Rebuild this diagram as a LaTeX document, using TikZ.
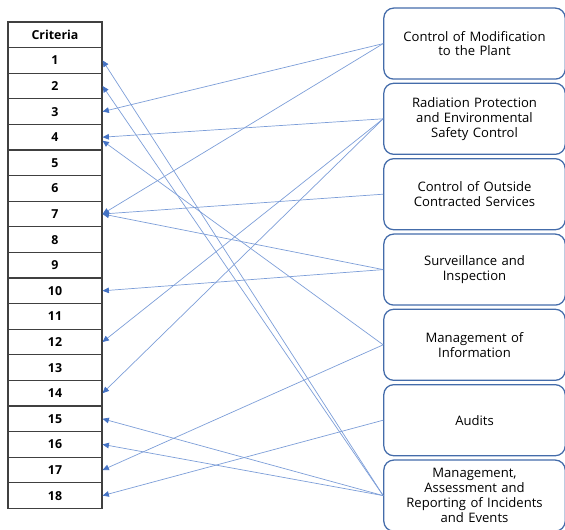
\documentclass[tikz,border=0pt]{standalone}
\usepackage{fontspec}
\setmainfont{Open Sans}
\usetikzlibrary{positioning, arrows.meta}
\definecolor{lineblue}{RGB}{125,158,216}
\definecolor{tipblue}{RGB}{68,114,196}
\definecolor{boxblue}{RGB}{68,108,170}

\begin{document}
\begin{tikzpicture}[
        font=\fontsize{9.3}{10.6}\selectfont,
        cell/.style={rectangle, draw=black!75, fill=white, minimum
          width=2.35cm, minimum height=0.64cm, inner sep=0pt,
        line width=0.8pt, font=\fontsize{8.8}{10}\selectfont\bfseries},
        area/.style={rectangle, draw=boxblue, text width=4.3cm,
          align=center, rounded corners=7pt, minimum width=4.425cm,
        minimum height=1.775cm, line width=0.9pt},
        line/.style={draw=lineblue, -{Triangle[length=4.5pt, width=4pt,
        color=tipblue]}, line width=0.5pt}
      ]
      \useasboundingbox (0, 0) rectangle (14.125, -13.225);

      % Criteria table
      \node [cell] (r_head) at (1.375, -0.87) {Criteria};
      \node [cell] (r_1) at (1.375, -1.51) {1};
      \node [cell] (r_2) at (1.375, -2.15) {2};
      \node [cell] (r_3) at (1.375, -2.79) {3};
      \node [cell] (r_4) at (1.375, -3.43) {4};
      \node [cell] (r_5) at (1.375, -4.07) {5};
      \node [cell] (r_6) at (1.375, -4.71) {6};
      \node [cell] (r_7) at (1.375, -5.35) {7};
      \node [cell] (r_8) at (1.375, -5.99) {8};
      \node [cell] (r_9) at (1.375, -6.63) {9};
      \node [cell] (r_10) at (1.375, -7.27) {10};
      \node [cell] (r_11) at (1.375, -7.91) {11};
      \node [cell] (r_12) at (1.375, -8.55) {12};
      \node [cell] (r_13) at (1.375, -9.19) {13};
      \node [cell] (r_14) at (1.375, -9.83) {14};
      \node [cell] (r_15) at (1.375, -10.47) {15};
      \node [cell] (r_16) at (1.375, -11.11) {16};
      \node [cell] (r_17) at (1.375, -11.75) {17};
      \node [cell] (r_18) at (1.375, -12.39) {18};

      % Area boxes
      \node [area] (a_mod) at (11.8625, -1.09) {Control of Modification
      \\to the Plant};
      \node [area] (a_rad) at (11.8625, -2.97) {Radiation Protection
      \\and Environmental\\Safety Control};
      \node [area] (a_out) at (11.8625, -4.855) {Control of Outside
      \\Contracted Services};
      \node [area] (a_surv) at (11.8625, -6.74) {Surveillance and
      \\Inspection};
      \node [area] (a_info) at (11.8625, -8.62) {Management of
      \\Information};
      \node [area] (a_audit) at (11.8625, -10.505) {Audits};
      \node [area] (a_event) at (11.8625, -12.39) {Management,
      \\Assessment and\\Reporting of Incidents\\and Events};

      % Links from areas to criteria
      \path [line] (a_mod.west) -- (r_3.east);
      \path [line] (a_mod.west) -- (r_7.east);
      \path [line] (a_rad.west) -- (r_4.east);
      \path [line] (a_rad.west) -- (r_12.east);
      \path [line] (a_rad.west) -- (r_14.east);
      \path [line] (a_out.west) -- (r_7.east);
      \path [line] (a_surv.west) -- (r_7.east);
      \path [line] (a_surv.west) -- (r_10.east);
      \path [line] (a_info.west) -- ([yshift=-2.5pt]r_4.east);
      \path [line] (a_info.west) -- (r_17.east);
      \path [line] (a_audit.west) -- (r_18.east);
      \path [line] (a_event.west) -- (r_1.east);
      \path [line] (a_event.west) -- (r_2.east);
      \path [line] (a_event.west) -- (r_15.east);
      \path [line] (a_event.west) -- (r_16.east);

    \end{tikzpicture}
\end{document}
